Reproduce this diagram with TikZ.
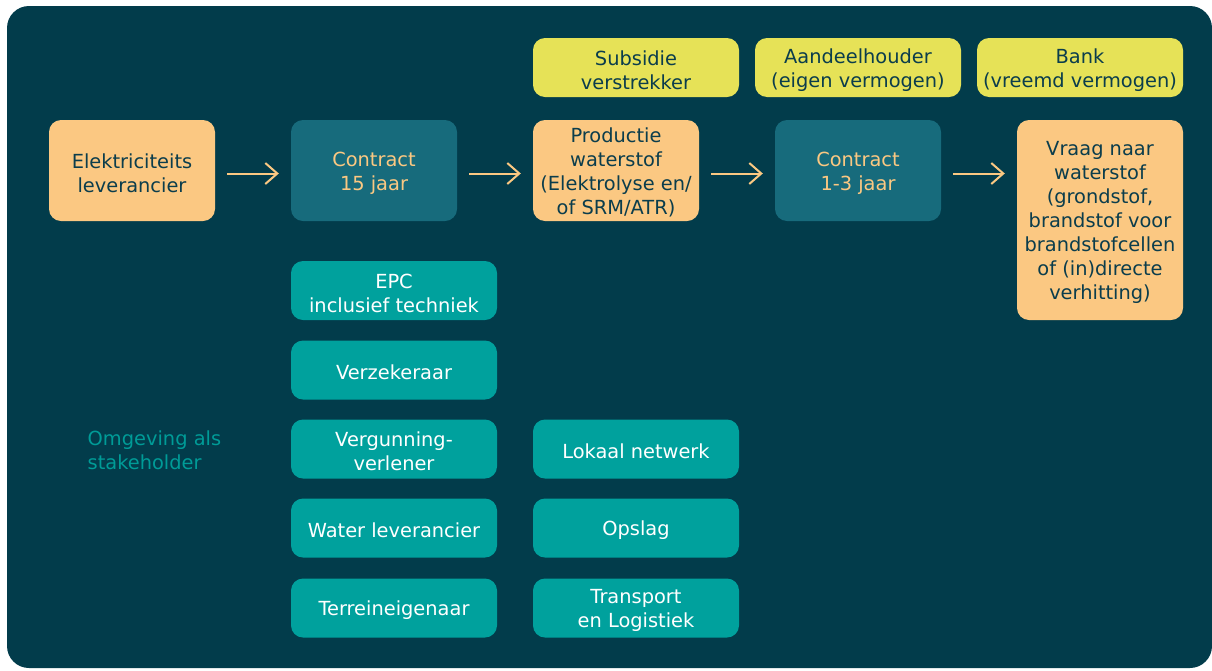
\documentclass[tikz,border=0pt]{standalone}
\usepackage{fontspec}
\setmainfont{DejaVu Sans}
\usetikzlibrary{arrows.meta}
\definecolor{bgdark}{HTML}{023C4B}
\definecolor{peach}{HTML}{FBC882}
\definecolor{lime}{HTML}{E6E257}
\definecolor{petrol}{HTML}{176B7C}
\definecolor{aqua}{HTML}{00A19D}
\definecolor{ink}{HTML}{0B3D4C}
\definecolor{aquatext}{HTML}{009B97}
% a tall invisible rule on a first line sets the text a little lower in its box
\newcommand\lowtop{\rule{0pt}{19.5pt}}
\begin{document}
\begin{tikzpicture}[x=1pt,y=-1pt,
  every node/.style={font=\fontsize{19.4}{24}\selectfont, align=center, inner sep=0pt},
  card/.style={rounded corners=12pt, minimum width=166pt, minimum height=101pt},
  actor/.style={card, fill=peach, text=ink},
  contract/.style={card, fill=petrol, text=peach},
  funder/.style={rounded corners=12pt, minimum width=206pt, minimum height=59pt, fill=lime, text=ink},
  party/.style={rounded corners=12pt, minimum width=206pt, minimum height=59pt, fill=aqua, text=white},
  flow/.style={draw=peach, line width=2pt, -{Straight Barb[length=12pt,width=21pt,line width=2pt]}, shorten <=12pt, shorten >=12pt}
]
\useasboundingbox (0,0) rectangle (1212,670);
\fill[bgdark, rounded corners=22pt] (7,6) rectangle (1212,668);

% main value chain
\node[actor] (elek) at (132,170.5) {\lowtop Elektriciteits\\leverancier};
\node[contract] (c15) at (374,170.5) {\lowtop Contract\\15 jaar};
\node[actor] (prod) at (616,170.5) {\lowtop Productie\\waterstof\\(Elektrolyse en/\\of SRM/ATR)};
\node[contract] (c13) at (858,170.5) {\lowtop Contract\\1-3 jaar};
\node[actor, minimum height=200pt] (vraag) at (1100,220) {\lowtop Vraag naar\\waterstof\\(grondstof,\\brandstof voor\\brandstofcellen\\of (in)directe\\verhitting)};

% financing parties
\node[funder] (subs) at (636,67.5) {\lowtop Subsidie\\verstrekker};
\node[funder] (aand) at (858,67.5) {\lowtop Aandeelhouder\\(eigen vermogen)};
\node[funder] (bank) at (1080,67.5) {\lowtop Bank\\(vreemd vermogen)};

% surrounding stakeholders
\node[party] (epc) at (394,290.5) {\lowtop EPC\\inclusief techniek};
\node[party] (verz) at (394,370) {\lowtop Verzekeraar};
\node[party] (verg) at (394,449) {\lowtop Vergunning-\\verlener};
\node[party] (water) at (394,528) {\lowtop Water leverancier};
\node[party] (terr) at (394,608) {\lowtop Terreineigenaar};
\node[party] (lokaal) at (636,449) {\lowtop Lokaal netwerk};
\node[party] (opslag) at (636,528) {\lowtop Opslag};
\node[party] (transp) at (636,608) {\lowtop Transport\\en Logistiek};

\node[text=aquatext, align=left, anchor=west] (omg) at (87.5,450) {Omgeving als\\stakeholder};

% flow arrows, running slightly below the box middles
\draw[flow] ([yshift=-3pt]elek.east) -- ([yshift=-3pt]c15.west);
\draw[flow] ([yshift=-3pt]c15.east) -- ([yshift=-3pt]prod.west);
\draw[flow] ([yshift=-3pt]prod.east) -- ([yshift=-3pt]c13.west);
\draw[flow] ([yshift=-3pt]c13.east) -- ([yshift=-3pt]c13.east -| vraag.west);
\end{tikzpicture}
\end{document}
